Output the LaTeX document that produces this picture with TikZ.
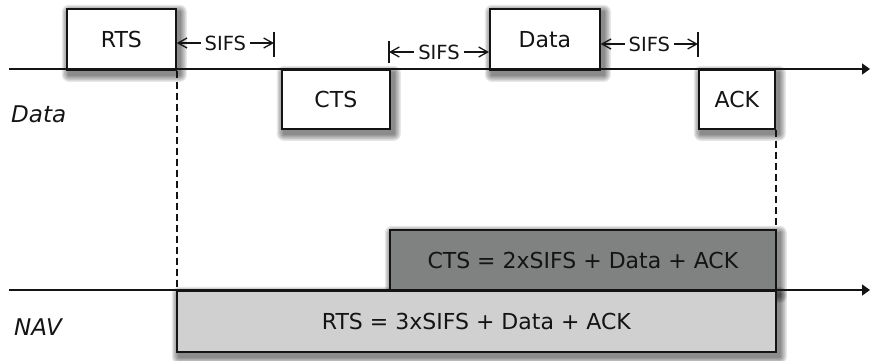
\documentclass[tikz,border=0pt]{standalone}
\usepackage{fontspec}
\setmainfont{DejaVu Sans}
\usetikzlibrary{arrows.meta,calc}
\definecolor{ink}{HTML}{141414}
\definecolor{navdark}{HTML}{7F8281}
\definecolor{navlight}{HTML}{D0D0D0}
\pgfdeclarelayer{shade}
\pgfsetlayers{shade,main}

% soft drop shadow behind a named frame, offset to the lower right
\newcommand\dropshade[1]{%
  \begin{pgfonlayer}{shade}
    \foreach \k [evaluate=\k as \rr using \k*1.2] in {1,...,6}{%
      \fill[black, opacity=0.095, rounded corners=\rr pt]
        ($(#1.north west)+(3-\rr,4-\rr)$) rectangle ($(#1.south east)+(3+\rr,4+\rr)$);
    }%
  \end{pgfonlayer}}

\begin{document}
\begin{tikzpicture}[x=1pt,y=-1pt,
  frame/.style={draw=ink, line width=1.7pt, fill=white, inner sep=0pt,
    anchor=north west, text=ink, font=\fontsize{22}{26}\selectfont},
  axis/.style={draw=ink, line width=1.6pt, -{Triangle[length=8pt,width=11pt]}},
  guide/.style={draw=ink, line width=1.6pt, dash pattern=on 7pt off 4pt},
  dimline/.style={draw=ink, line width=1.3pt,
    {Straight Barb[length=9pt,width=10pt]}-{Straight Barb[length=9pt,width=10pt]}},
  bar/.style={draw=ink, line width=1.6pt},
  sifs/.style={fill=white, inner xsep=4pt, inner ysep=1pt, text=ink,
    font=\fontsize{19.5}{22}\selectfont},
  lbl/.style={anchor=base west, inner sep=0pt, text=ink,
    font=\fontsize{23}{27}\selectfont\itshape}]

\useasboundingbox (0,0) rectangle (870,360);

% frames on the channel
\node[frame, minimum width=109pt, minimum height=61pt] (rts)  at (66,8)   {RTS};
\node[frame, minimum width=108pt, minimum height=59pt] (cts)  at (281,69) {CTS};
\node[frame, minimum width=110pt, minimum height=61pt] (data) at (489,8)  {Data};
\node[frame, minimum width=76pt,  minimum height=59pt] (ack)  at (698,69) {ACK};

% NAV durations
\node[frame, fill=navdark, minimum width=386pt, minimum height=61pt] (navcts) at (389,229)
  {CTS = 2xSIFS + Data + ACK};
\node[frame, fill=navlight, minimum width=599pt, minimum height=61pt] (navrts) at (176,290)
  {RTS = 3xSIFS + Data + ACK};

\dropshade{rts}
\dropshade{cts}
\dropshade{data}
\dropshade{ack}
\dropshade{navcts}
\dropshade{navrts}

% time axes
\coordinate (a0) at (9,69);
\coordinate (a1) at (870,69);
\coordinate (n0) at (9,290);
\coordinate (n1) at (870,290);
\draw[axis] (a0) -- (a1);
\draw[axis] (n0) -- (n1);

% guide lines down to the NAV axis
\draw[guide] (rts.south east) -- (rts.south east |- navrts.north);
\draw[guide] (ack.south east) -- (ack.south east |- navrts.north);

% SIFS gaps
\coordinate (s1a) at (rts.east |- 0,43);
\coordinate (s1b) at (274,43);
\draw[bar] (274,32) -- (274,57);
\draw[dimline] (s1a) -- (s1b) node[midway, sifs] {SIFS};

\coordinate (s2a) at (389,52);
\coordinate (s2b) at (data.west |- 0,52);
\draw[bar] (389,41) -- (389,63);
\draw[dimline] (s2a) -- (s2b) node[midway, sifs] {SIFS};

\coordinate (s3a) at (data.east |- 0,44);
\coordinate (s3b) at (698,44);
\draw[bar] (698,32) -- (698,57);
\draw[dimline] (s3a) -- (s3b) node[midway, sifs] {SIFS};

% row labels
\node[lbl] (lbldata) at (11,122) {Data};
\node[lbl] (lblnav)  at (14,335) {NAV};
\end{tikzpicture}
\end{document}
